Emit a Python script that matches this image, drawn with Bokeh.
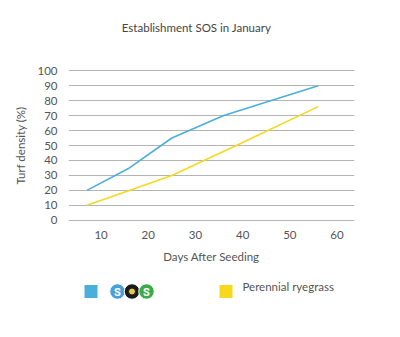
from bokeh.plotting import figure
from bokeh.layouts import column
from bokeh.models import Range1d, FixedTicker, ColumnDataSource
from bokeh.core.properties import value
from bokeh.embed import file_html
from bokeh.resources import INLINE

# Data
sos_days = [7, 16, 25, 36, 56]
sos_density = [20, 35, 55, 70, 90]
rye_days = [7, 16, 25, 40, 56]
rye_density = [10, 20, 30, 52, 76]
x_ticks = [10, 20, 30, 40, 50, 60]
y_ticks = [0, 10, 20, 30, 40, 50, 60, 70, 80, 90, 100]
title_text = "Establishment SOS in January"

FONT = "Lato"
TXT = "#555555"
BLUE = "#4BAFDC"
YELLOW = "#F6D81E"


def blank(fig):
    fig.outline_line_color = None
    fig.xaxis.visible = False
    fig.yaxis.visible = False
    fig.grid.visible = False


# Title panel (frame aligned with main frame: x data units == page pixels)
tf = figure(width=400, height=50, output_backend="svg", toolbar_location=None,
            x_range=Range1d(68, 354), y_range=Range1d(50, 0),
            min_border_left=68, min_border_right=46, min_border_top=0,
            min_border_bottom=0)
blank(tf)
tf.text(x=[196], y=[27], text=[title_text], text_color="#444444",
        text_align="center", text_baseline="middle", text_font_size="11.5px",
        text_font=value(FONT))

p = figure(width=400, height=220, output_backend="svg", toolbar_location=None,
           x_range=Range1d(3.1, 63.7), y_range=Range1d(-0.8, 100.8),
           min_border_left=68, min_border_right=46, min_border_top=19,
           min_border_bottom=49)
p.outline_line_color = None

p.xgrid.grid_line_color = None
p.ygrid.grid_line_color = "#b4b4b4"
p.ygrid.grid_line_width = 1
p.ygrid.ticker = FixedTicker(ticks=y_ticks)

p.xaxis.ticker = FixedTicker(ticks=x_ticks)
p.yaxis.ticker = FixedTicker(ticks=y_ticks)
for ax in (p.xaxis[0], p.yaxis[0]):
    ax.axis_line_color = None
    ax.major_tick_line_color = None
    ax.minor_tick_line_color = None
    ax.major_label_text_font = FONT
    ax.major_label_text_font_size = "11.5px"
    ax.major_label_text_color = TXT
    ax.axis_label_text_font = FONT
    ax.axis_label_text_font_size = "11.5px"
    ax.axis_label_text_font_style = "normal"
    ax.axis_label_text_color = TXT
p.xaxis.axis_label = "Days After Seeding"
p.yaxis.axis_label = "Turf density (%)"
p.xaxis.major_label_standoff = 3
p.xaxis.axis_label_standoff = 8
p.yaxis.major_label_standoff = 5
p.yaxis.axis_label_standoff = 7

p.line(sos_days, sos_density, line_color=BLUE, line_width=1.6)
p.line(rye_days, rye_density, line_color=YELLOW, line_width=1.6)

# Legend panel
lg = figure(width=400, height=67, output_backend="svg", toolbar_location=None,
            x_range=Range1d(68, 354), y_range=Range1d(67, 0),
            min_border_left=68, min_border_right=46, min_border_top=0,
            min_border_bottom=0)
blank(lg)

lg.scatter(x=[90.5, 225.5], y=[21, 21], marker="square", size=13,
           fill_color=[BLUE, YELLOW], line_color=None)
logo = ColumnDataSource(dict(x=[117, 131.5, 146], y=[21, 21, 21],
                             c=["#4A9FD6", "#1a1a1a", "#3DAA49"]))
lg.scatter(x="x", y="y", marker="circle", size=15.5, fill_color="c",
           line_color="white", line_width=1, source=logo)
lg.text(x=[117, 146], y=[21.5, 21.5], text=["S", "S"], text_color="white",
        text_align="center", text_baseline="middle", text_font_size="11px",
        text_font=value("Roboto"), text_font_style="bold")
lg.scatter(x=[131.5], y=[21], marker="circle", size=7,
           fill_color="#E6C84A", line_color="#1a1a1a")
lg.text(x=[242], y=[16], text=["Perennial ryegrass"], text_color=TXT,
        text_align="left", text_baseline="middle", text_font_size="11.5px",
        text_font=value(FONT))

layout = column(tf, p, lg, spacing=0)
open("out.html", "w").write(file_html(layout, INLINE))
